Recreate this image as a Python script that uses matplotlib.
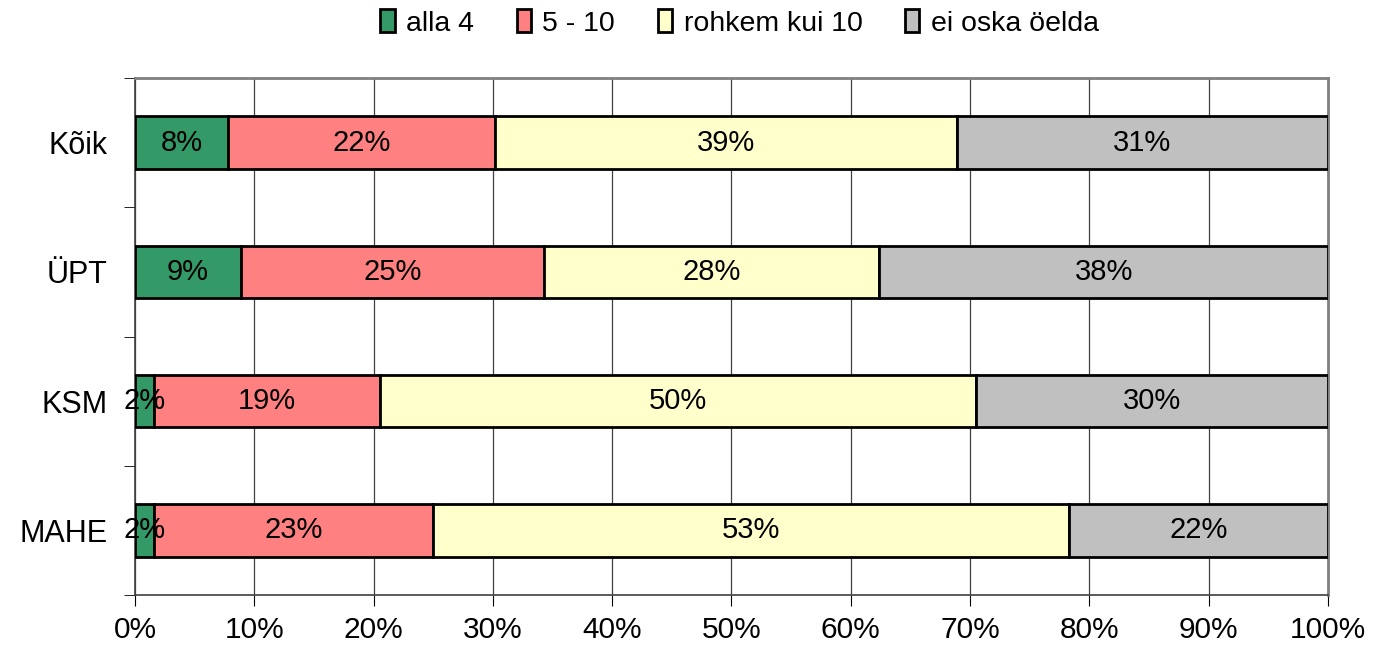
import matplotlib.pyplot as plt
import numpy as np

plt.rcParams['font.family'] = ['Liberation Sans', 'DejaVu Sans']

groups = ['Kõik', 'ÜPT', 'KSM', 'MAHE']
series = ['alla 4', '5 - 10', 'rohkem kui 10', 'ei oska öelda']
colors = ['#339966', '#ff8080', '#ffffcc', '#c0c0c0']

alla4 = [7.8, 8.9, 1.6, 1.6]
v5_10 = [22.4, 25.4, 18.9, 23.4]
rohkem = [38.7, 28.1, 50.0, 53.3]
ei_oska = [31.1, 37.6, 29.5, 21.7]
values = [alla4, v5_10, rohkem, ei_oska]

fig = plt.figure(figsize=(13.85, 6.5), dpi=100)
ax = fig.add_axes([0.0975, 0.0846, 0.8613, 0.7954])

y = np.arange(len(groups))
left = np.zeros(len(groups))
for name, vals, col in zip(series, values, colors):
    vals = np.array(vals)
    ax.barh(y, vals, left=left, height=0.405, color=col, edgecolor='black',
            linewidth=2, label=name, zorder=3)
    for yi, l, v in zip(y, left, vals):
        ax.text(l + v / 2, yi, f'{v:.0f}%', ha='center', va='center',
                fontsize=21, zorder=4)
    left += vals

ax.set_xlim(0, 100)
ax.set_ylim(3.5, -0.5)
ax.set_xticks(np.arange(0, 101, 10))
ax.set_xticklabels([f'{t}%' for t in range(0, 101, 10)], fontsize=21.5)
ax.set_yticks(y)
ax.set_yticklabels(groups, fontsize=22)
ax.tick_params(axis='y', length=0, pad=20)
ax.set_yticks(np.arange(-0.5, 4, 1), minor=True)
ax.tick_params(axis='y', which='minor', length=8, color='black')
ax.tick_params(axis='x', length=8, pad=7)
ax.grid(axis='x', color='#404040', linewidth=0.9, zorder=0)

for s in ['top', 'right']:
    ax.spines[s].set_color('#808080')
    ax.spines[s].set_linewidth(2)
for s in ['left', 'bottom']:
    ax.spines[s].set_color('#404040')
    ax.spines[s].set_linewidth(1.2)

fig.legend(loc='upper center', bbox_to_anchor=(0.534, 1.025), ncol=4, frameon=False,
           fontsize=20.5, handlelength=0.5, handleheight=0.85, handletextpad=0.4,
           columnspacing=1.5)

fig.savefig('out.png', dpi=100)
